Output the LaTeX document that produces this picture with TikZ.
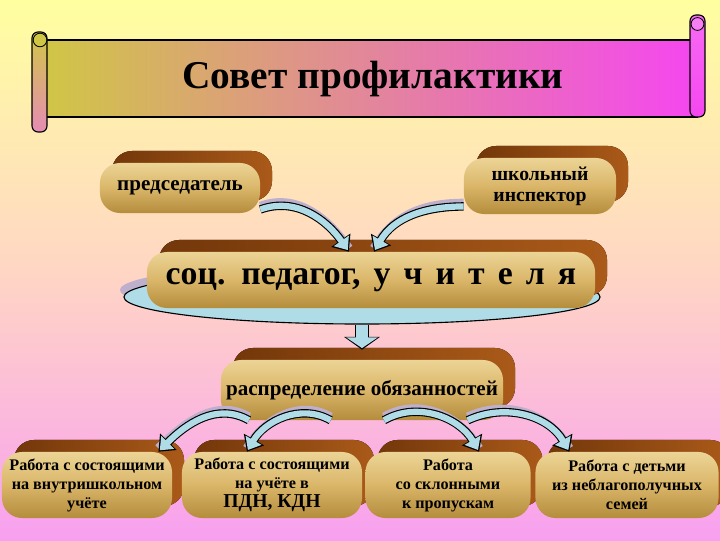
\documentclass[tikz,border=0pt]{standalone}
\usepackage{fontspec}
\setmainfont{Liberation Serif}
\newfontfamily\widefont[WordSpace=1.55]{Liberation Serif}
\usetikzlibrary{positioning,arrows.meta,shadows,shapes.geometric}

\definecolor{bgtop}{RGB}{255,255,160}
\definecolor{bgmid}{RGB}{255,214,196}
\definecolor{bgbot}{RGB}{248,160,240}
\definecolor{goldtop}{RGB}{236,212,150}
\definecolor{goldmid}{RGB}{218,182,105}
\definecolor{goldbot}{RGB}{180,140,60}
\definecolor{browndark}{RGB}{115,55,10}
\definecolor{brownlight}{RGB}{170,90,25}
\definecolor{flowblue}{RGB}{175,220,230}
\definecolor{flowshade}{RGB}{190,175,205}
\definecolor{scrollleft}{RGB}{208,198,70}
\definecolor{scrollmid}{RGB}{228,165,170}
\definecolor{scrollright}{RGB}{245,70,240}
\definecolor{rollpink}{RGB}{230,140,180}

\tikzset{
  goldbox/.style={rounded corners=0.5cm, inner sep=0pt, align=center,
    top color=goldtop, bottom color=goldbot, middle color=goldmid,
    copy shadow={shadow xshift=0.3cm, shadow yshift=0.3cm, draw=none,
      left color=browndark, right color=brownlight},
    font=\bfseries\fontsize{15}{16}\selectfont},
  smallbox/.style={goldbox, minimum height=1.65cm,
    font=\bfseries\fontsize{11.5}{13.5}\selectfont},
  plate/.style={ellipse, draw=black, line width=0.8pt, fill=flowblue, inner sep=0pt,
    minimum width=11.9cm, minimum height=1.35cm,
    copy shadow={shadow xshift=-0.1cm, shadow yshift=0.175cm, fill=flowshade, draw=none}},
  flow/.style={line width=6pt, draw=black, -{Triangle[length=10pt,width=16pt]},
    preaction={draw=flowshade, line width=6pt, arrows=-, transform canvas={yshift=2.5pt}},
    postaction={draw=flowblue, line width=4.4pt, shorten >=1.4pt,
      -{Triangle[length=8pt,width=12.6pt]}}},
  stem/.style={line width=0.35cm, draw=black, shorten >=0.25cm,
    -{Triangle[length=0.32cm,width=0.88cm]},
    postaction={draw=flowblue, line width=0.3cm, shorten >=0.29cm,
      -{Triangle[length=0.27cm,width=0.78cm]}}}
}

\begin{document}
\begin{tikzpicture}[x=0.025cm, y=0.025cm]
  \useasboundingbox (0,0) rectangle (720,540);
  \shade[top color=bgtop, bottom color=bgbot, middle color=bgmid] (0,0) rectangle (720,540);

  % Scroll with the title
  \shade[left color=scrollleft, middle color=scrollmid, right color=scrollright,
    draw=black, line width=0.8pt] (45,423) rectangle (697,500);
  \shade[top color=scrollright!80!white, bottom color=scrollright, draw=black,
    line width=0.8pt, rounded corners=0.15cm] (690,423) rectangle (705,525);
  \draw[fill=scrollright!70!white, line width=0.6pt] (697.5,516) circle (0.16cm);
  \shade[top color=scrollleft, bottom color=rollpink, draw=black,
    line width=0.8pt, rounded corners=0.15cm] (32,408) rectangle (47,508);
  \draw[fill=scrollleft, line width=0.6pt] (40,500) circle (0.17cm);
  \node[font=\bfseries\fontsize{28}{34}\selectfont] (title) at (373,461) {Совет профилактики};

  % Top row
  \node[goldbox, minimum width=4cm, minimum height=1.25cm] (pred) at (180,352) {председатель};
  \node[goldbox, minimum width=3.8cm, minimum height=1.4cm,
    font=\bfseries\fontsize{14}{15}\selectfont] (insp) at (540,354) {школьный\\инспектор};

  % Plate under the teachers
  \node[plate] (plate) at (362,243) {};
  \node[goldbox, minimum width=11.2cm, minimum height=1.4cm,
    font=\widefont\bfseries\fontsize{24}{28}\selectfont] (soc) at (371,260)
    {соц. педагог, у ч и т е л я};

  \node[goldbox, minimum width=7.05cm, minimum height=1.5cm] (raspr) at (362,150) {распределение обязанностей};

  % Bottom row
  \node[smallbox, minimum width=4.25cm] (b1) at (87,55) {Работа с состоящими\\на внутришкольном\\учёте};
  \node[smallbox, minimum width=4.5cm] (b2) at (272,55) {Работа с состоящими\\на учёте в\\{\fontsize{14}{16}\selectfont ПДН, КДН}};
  \node[smallbox, minimum width=4.125cm] (b3) at (448,55) {Работа\\со склонными\\к пропускам};
  \node[smallbox, minimum width=4.575cm] (b4) at (627,55) {Работа с детьми\\из неблагополучных\\семей};

  % Arrows
  \draw[flow] (pred.-15) to[out=20, in=125] (soc.128);
  \draw[flow] (insp.195) to[out=180, in=60] (soc.84);
  \draw[stem] (plate.south) -- (raspr.north);
  \draw[flow] (raspr.195) to[out=150, in=45] (b1.25);
  \draw[flow] (raspr.224) to[out=150, in=60] (b2.127);
  \draw[flow] (raspr.306) to[out=30, in=120] (b3.47);
  \draw[flow] (raspr.344) to[out=25, in=120] (b4.150);
\end{tikzpicture}
\end{document}
